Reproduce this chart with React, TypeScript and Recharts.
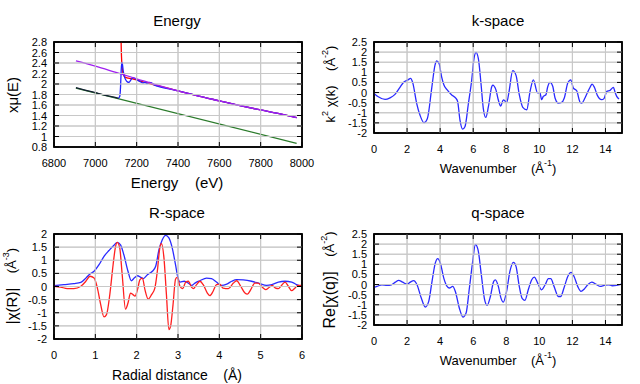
import type { ReactNode } from "react";
import { CartesianGrid, Line, LineChart, ReferenceArea, XAxis, YAxis } from "recharts";

const FONT = "'Liberation Sans', Arial, sans-serif";

// Energy panel: [eV, value]
const preEdgeMu: [number, number][] = [
  [6906, 1.93], [6950, 1.885], [7000, 1.835], [7050, 1.785], [7100, 1.74], [7113, 1.728],
];
const muE: [number, number][] = [
  [7112, 1.73], [7118, 1.76], [7122, 1.95], [7125, 2.25], [7128, 2.41], [7131, 2.38], [7135, 2.25],
  [7140, 2.15], [7147, 2.08], [7155, 2.04], [7163, 2.03], [7172, 2.08], [7182, 2.12], [7190, 2.11],
  [7200, 2.08], [7215, 2.05], [7230, 2.02], [7242, 2.03], [7250, 2.01], [7262, 2.03], [7272, 2.02],
  [7285, 1.98], [7300, 1.96], [7400, 1.87], [7500, 1.77], [7600, 1.68], [7700, 1.59], [7800, 1.505],
  [7900, 1.425], [7974, 1.36],
];
const bkgE: [number, number][] = [
  [7122, 3.6], [7125, 2.75], [7129, 2.35], [7134, 2.2], [7142, 2.14], [7160, 2.11], [7180, 2.1],
  [7200, 2.08], [7230, 2.04], [7260, 2.01], [7300, 1.97], [7400, 1.87], [7500, 1.77], [7600, 1.68],
  [7700, 1.59], [7800, 1.505], [7900, 1.425], [7974, 1.36],
];
const preLine: [number, number][] = [[6906, 1.92], [7974, 0.87]];
const postLine: [number, number][] = [
  [6906, 2.44], [7000, 2.34], [7100, 2.22], [7200, 2.1], [7300, 1.98], [7400, 1.87], [7500, 1.77],
  [7600, 1.68], [7700, 1.59], [7800, 1.505], [7900, 1.425], [7974, 1.36],
];

// k-space: [k, k^2 chi]
const kChi: [number, number][] = [
  [0, -0.04], [0.26, -0.21], [0.67, -0.34], [0.97, -0.26], [1.27, -0.09], [1.57, 0.26], [1.78, 0.5],
  [2.04, 0.62], [2.22, 0.7], [2.34, 0.49], [2.58, -0.53], [2.78, -1.11], [3.02, -1.49], [3.23, -1.28],
  [3.49, 0.21], [3.69, 1.36], [3.79, 1.56], [3.93, 1.45], [4.09, 0.78], [4.23, 0.37], [4.44, 0.12],
  [4.7, -0.12], [4.96, -0.29], [5.06, -0.45], [5.2, -1.36], [5.36, -1.81], [5.5, -1.69], [5.71, -0.54],
  [5.91, 0.62], [6.05, 1.69], [6.17, 1.99], [6.31, 1.69], [6.47, 0.46], [6.61, -0.78], [6.76, -1.23],
  [6.92, -0.7], [7.12, 0.29], [7.18, 0.37], [7.38, 0.12], [7.52, -0.37], [7.66, -0.67], [7.82, -0.36],
  [8.03, -0.48], [8.17, 0.06], [8.39, 1.08], [8.59, 0.85], [8.79, -0.11], [9.0, -0.73], [9.24, -0.85],
  [9.44, 0.06], [9.64, 0.63], [9.88, 0.0], [10.04, -0.02], [10.14, -0.35], [10.24, -0.19], [10.4, -0.11],
  [10.5, 0.26], [10.65, 0.5], [10.81, 0.31], [10.95, -0.27], [11.15, -0.52], [11.35, -0.49], [11.51, -0.27],
  [11.72, 0.47], [11.9, 0.63], [12.06, 0.22], [12.26, 0.09], [12.46, -0.47], [12.56, -0.52], [12.76, -0.27],
  [12.9, -0.02], [13.07, 0.26], [13.19, 0.42], [13.33, 0.26], [13.51, -0.14], [13.77, -0.35], [13.91, -0.3],
  [14.08, 0.06], [14.28, 0.11], [14.48, 0.26], [14.58, 0.02], [14.68, -0.19], [14.82, -0.32],
];

// R-space: [R, value]
const rMag: [number, number][] = [
  [0, 0.03], [0.24, 0.07], [0.48, 0.11], [0.65, 0.16], [0.77, 0.32], [0.85, 0.45], [0.97, 0.58],
  [1.09, 0.83], [1.21, 1.15], [1.33, 1.37], [1.45, 1.57], [1.53, 1.68], [1.61, 1.59], [1.69, 1.21],
  [1.79, 0.58], [1.87, 0.22], [1.94, 0.32], [2.02, 0.41], [2.1, 0.35], [2.16, 0.3], [2.26, 0.45],
  [2.38, 0.58], [2.46, 0.77], [2.54, 1.4], [2.62, 1.78], [2.7, 1.95], [2.78, 1.85], [2.86, 1.47],
  [2.94, 0.83], [2.99, 0.39], [3.05, 0.17], [3.15, 0.2], [3.25, 0.13], [3.33, 0.04], [3.41, 0.13],
  [3.53, 0.22], [3.69, 0.32], [3.81, 0.3], [3.93, 0.17], [4.05, 0.04], [4.18, 0.09], [4.3, 0.2],
  [4.42, 0.26], [4.58, 0.25], [4.78, 0.2], [4.98, 0.11], [5.14, 0.04], [5.27, 0.07], [5.43, 0.17],
  [5.59, 0.2], [5.75, 0.17], [5.87, 0.07], [5.98, 0.0],
];
const rRe: [number, number][] = [
  [0, 0.01], [0.16, -0.02], [0.32, -0.08], [0.48, -0.08], [0.65, 0.01], [0.77, 0.2], [0.87, 0.39],
  [0.97, 0.32], [1.05, -0.06], [1.13, -0.69], [1.21, -1.16], [1.27, -1.07], [1.35, -0.31], [1.43, 0.83],
  [1.49, 1.53], [1.53, 1.68], [1.59, 1.47], [1.65, 0.45], [1.73, -0.86], [1.79, -0.63], [1.85, -0.25],
  [1.91, -0.31], [1.96, -0.37], [2.02, -0.12], [2.08, 0.26], [2.14, 0.32], [2.2, -0.12], [2.28, -0.48],
  [2.36, -0.31], [2.44, -0.06], [2.5, 0.58], [2.56, 1.47], [2.6, 1.63], [2.66, 1.09], [2.72, -0.31],
  [2.78, -1.64], [2.82, -1.52], [2.88, -0.69], [2.94, 0.28], [2.98, 0.35], [3.05, 0.0], [3.11, -0.08],
  [3.19, 0.17], [3.25, 0.2], [3.33, -0.03], [3.37, -0.08], [3.45, 0.07], [3.53, 0.2], [3.61, 0.07],
  [3.71, -0.25], [3.77, -0.35], [3.85, -0.18], [3.93, 0.07], [4.01, 0.09], [4.09, -0.06], [4.22, -0.08],
  [4.34, 0.13], [4.42, 0.22], [4.52, 0.0], [4.62, -0.25], [4.68, -0.29], [4.76, -0.12], [4.86, 0.13],
  [4.94, 0.13], [5.04, -0.03], [5.12, -0.12], [5.21, -0.03], [5.28, 0.04], [5.36, -0.06], [5.43, -0.08],
  [5.49, 0.01], [5.59, 0.17], [5.67, 0.01], [5.75, -0.16], [5.82, -0.08], [5.9, 0.04], [5.98, 0.04],
];

// q-space: [q, Re chi(q)]
const qRe: [number, number][] = [
  [0, -0.14], [0.18, -0.09], [0.48, -0.01], [0.79, -0.04], [1.05, -0.01], [1.29, 0.12], [1.49, 0.21],
  [1.73, 0.12], [2.0, 0.02], [2.2, 0.12], [2.4, 0.19], [2.6, -0.01], [2.86, -0.67], [3.1, -1.11],
  [3.31, -0.83], [3.51, 0.16], [3.71, 1.07], [3.85, 1.28], [4.01, 1.07], [4.22, 0.32], [4.42, -0.09],
  [4.56, -0.17], [4.76, -0.09], [4.92, -0.34], [5.16, -1.16], [5.38, -1.61], [5.57, -1.41], [5.77, -0.17],
  [5.97, 1.15], [6.13, 1.97], [6.29, 1.73], [6.49, 0.49], [6.69, -0.75], [6.84, -1.03], [7.04, -0.59],
  [7.24, 0.16], [7.34, 0.23], [7.52, -0.09], [7.68, -0.67], [7.82, -0.87], [8.02, -0.34], [8.22, 0.65],
  [8.43, 1.1], [8.59, 0.9], [8.77, -0.01], [8.97, -0.7], [9.13, -0.78], [9.33, -0.26], [9.54, 0.24],
  [9.7, 0.37], [9.9, 0.07], [10.14, -0.26], [10.35, -0.01], [10.55, 0.29], [10.69, 0.29], [10.89, -0.09],
  [11.15, -0.59], [11.29, -0.59], [11.49, -0.17], [11.72, 0.4], [11.92, 0.6], [12.1, 0.4], [12.32, -0.09],
  [12.52, -0.34], [12.72, -0.22], [12.93, -0.01], [13.17, 0.12], [13.41, 0.02], [13.67, -0.09],
  [13.93, -0.04], [14.17, -0.01], [14.42, -0.06], [14.68, -0.04], [14.98, 0.02],
];

const energyTicksX = [6800, 7000, 7200, 7400, 7600, 7800, 8000];
const energyTicksY = [0.8, 1, 1.2, 1.4, 1.6, 1.8, 2, 2.2, 2.4, 2.6, 2.8];
const kTicksX = [0, 2, 4, 6, 8, 10, 12, 14];
const kTicksY = [-2, -1.5, -1, -0.5, 0, 0.5, 1, 1.5, 2, 2.5];
const rTicksX = [0, 1, 2, 3, 4, 5, 6];
const rTicksY = [-2, -1.5, -1, -0.5, 0, 0.5, 1, 1.5, 2];

const toPts = (arr: [number, number][]) => arr.map(([x, y]) => ({ x, y }));

const PLOT_W = 248;
const GRID = "#c8c8c8";

// gnuplot-like ticks: label outside, short inward tick on both opposite sides, plus the grid line.
// The first x tick also carries the frame and the panel's title and axis titles.
function XTick({ x, y, payload, h, index, extra, edge }: any) {
  const atEdge = payload.value === edge[0] || payload.value === edge[1];
  return (
    <g>
      {!atEdge && <line x1={x} x2={x} y1={y} y2={y - h} stroke={GRID} />}
      <line x1={x} x2={x} y1={y} y2={y - 5} stroke="#000" />
      <line x1={x} x2={x} y1={y - h} y2={y - h + 5} stroke="#000" />
      <text x={x} y={y + 20} textAnchor="middle" fontSize={11} fontFamily={FONT} fill="#000">
        {payload.value}
      </text>
      {index === 0 ? (
        <>
          <rect x={x} y={y - h} width={PLOT_W} height={h} fill="none" stroke="#000" strokeWidth={1.5} />
          {extra}
        </>
      ) : null}
    </g>
  );
}

function YTick({ x, y, payload, edge }: any) {
  const atEdge = payload.value === edge[0] || payload.value === edge[1];
  return (
    <g>
      {!atEdge && <line x1={x} x2={x + PLOT_W} y1={y} y2={y} stroke={GRID} />}
      <line x1={x} x2={x + 5} y1={y} y2={y} stroke="#000" />
      <line x1={x + PLOT_W} x2={x + PLOT_W - 5} y1={y} y2={y} stroke="#000" />
      <text x={x - 7} y={y + 4} textAnchor="end" fontSize={11} fontFamily={FONT} fill="#000">
        {payload.value}
      </text>
    </g>
  );
}

function T({ x, y, size, rotate, children }: { x: number; y: number; size: number; rotate?: boolean; children: ReactNode }) {
  return (
    <text
      x={x}
      y={y}
      fontSize={size}
      fontFamily={FONT}
      fill="#000"
      textAnchor="middle"
      dominantBaseline="central"
      transform={rotate ? `rotate(-90 ${x} ${y})` : undefined}
      style={{ whiteSpace: "pre" }}
    >
      {children}
    </text>
  );
}

function Plot({
  left,
  top,
  h,
  xDomain,
  xTicks,
  yDomain,
  yTicks,
  labels,
  children,
}: {
  left: number;
  top: number;
  h: number;
  xDomain: [number, number];
  xTicks: number[];
  yDomain: [number, number];
  yTicks: number[];
  labels: ReactNode;
  children: ReactNode;
}) {
  return (
    <div style={{ position: "absolute", left, top }}>
      <LineChart width={320} height={192} margin={{ top: 42, right: 18, left: 14, bottom: 192 - 42 - h - 30 }}>
        <CartesianGrid stroke={GRID} />
        <XAxis
          type="number"
          dataKey="x"
          domain={xDomain}
          ticks={xTicks}
          interval={0}
          allowDataOverflow
          height={30}
          tickSize={0}
          tickMargin={0}
          tickLine={false}
          axisLine={false}
          tick={(p: any) => <XTick {...p} h={h} extra={labels} edge={xDomain} />}
        />
        <YAxis
          type="number"
          domain={yDomain}
          ticks={yTicks}
          interval={0}
          allowDataOverflow
          width={40}
          tickSize={0}
          tickMargin={0}
          tickLine={false}
          axisLine={false}
          tick={(p: any) => <YTick {...p} edge={yDomain} />}
        />
        <ReferenceArea
          x1={xDomain[0]}
          x2={xDomain[1]}
          y1={yDomain[0]}
          y2={yDomain[1]}
          fill="none"
          stroke="#000"
          strokeWidth={1.5}
          fillOpacity={0}
          ifOverflow="visible"
        />
        {children}
      </LineChart>
    </div>
  );
}

export default function App() {
  return (
    <div style={{ position: "absolute", left: 0, top: 0, width: 640, height: 384, background: "#fff" }}>
      <Plot
        left={0}
        top={0}
        h={105}
        xDomain={[6800, 8000]}
        xTicks={energyTicksX}
        yDomain={[0.8, 2.8]}
        yTicks={energyTicksY}
        labels={
          <>
            <T x={177} y={20} size={15}>Energy</T>
            <T x={177} y={182} size={15}>{"Energy    (eV)"}</T>
            <T x={12} y={95} size={15} rotate>xμ(E)</T>
          </>
        }
      >
        <Line data={toPts(preLine)} dataKey="y" type="linear" stroke="#2a7a2a" strokeWidth={1.2} dot={false} isAnimationActive={false} />
        <Line data={toPts(preEdgeMu)} dataKey="y" type="monotone" stroke="#152035" strokeWidth={1.3} dot={false} isAnimationActive={false} />
        <Line data={toPts(bkgE)} dataKey="y" type="monotone" stroke="#ff0000" strokeWidth={1.3} dot={false} isAnimationActive={false} />
        <Line data={toPts(muE)} dataKey="y" type="monotone" stroke="#2222ff" strokeWidth={1.3} dot={false} isAnimationActive={false} />
        <Line data={toPts(postLine)} dataKey="y" type="monotone" stroke="#a020f0" strokeWidth={1.3} dot={false} isAnimationActive={false} />
      </Plot>
      <Plot
        left={320}
        top={0}
        h={91}
        xDomain={[0, 15]}
        xTicks={kTicksX}
        yDomain={[-2, 2.5]}
        yTicks={kTicksY}
        labels={
          <>
            <T x={178} y={20} size={15}>k-space</T>
            <T x={178} y={168} size={13}>
              {"Wavenumber    (Å"}
              <tspan dy={-5} fontSize={9}>-1</tspan>
              <tspan dy={5}>)</tspan>
            </T>
            <T x={10} y={84} size={13} rotate>
              {"k"}
              <tspan dy={-5} fontSize={9}>2</tspan>
              <tspan dy={5}>{" χ(k)    (Å"}</tspan>
              <tspan dy={-5} fontSize={9}>-2</tspan>
              <tspan dy={5}>)</tspan>
            </T>
          </>
        }
      >
        <Line data={toPts(kChi)} dataKey="y" type="monotone" stroke="#2a2aff" strokeWidth={1.3} dot={false} isAnimationActive={false} />
      </Plot>
      <Plot
        left={0}
        top={192}
        h={105}
        xDomain={[0, 6]}
        xTicks={rTicksX}
        yDomain={[-2, 2]}
        yTicks={rTicksY}
        labels={
          <>
            <T x={177} y={20} size={15}>R-space</T>
            <T x={177} y={183} size={14}>{"Radial distance    (Å)"}</T>
            <T x={11} y={94} size={13} rotate>
              <tspan fontSize={15}>|χ(R)|</tspan>
              {"    (Å"}
              <tspan dy={-5} fontSize={9}>-3</tspan>
              <tspan dy={5}>)</tspan>
            </T>
          </>
        }
      >
        <Line data={toPts(rMag)} dataKey="y" type="monotone" stroke="#2a2aff" strokeWidth={1.3} dot={false} isAnimationActive={false} />
        <Line data={toPts(rRe)} dataKey="y" type="monotone" stroke="#ff2020" strokeWidth={1.3} dot={false} isAnimationActive={false} />
      </Plot>
      <Plot
        left={320}
        top={192}
        h={91}
        xDomain={[0, 15]}
        xTicks={kTicksX}
        yDomain={[-2, 2.5]}
        yTicks={kTicksY}
        labels={
          <>
            <T x={178} y={20} size={15}>q-space</T>
            <T x={178} y={168} size={13}>
              {"Wavenumber    (Å"}
              <tspan dy={-5} fontSize={9}>-1</tspan>
              <tspan dy={5}>)</tspan>
            </T>
            <T x={9} y={88} size={13} rotate>
              <tspan fontSize={16}>Re[χ(q)]</tspan>
              {"    (Å"}
              <tspan dy={-5} fontSize={9}>-2</tspan>
              <tspan dy={5}>)</tspan>
            </T>
          </>
        }
      >
        <Line data={toPts(qRe)} dataKey="y" type="monotone" stroke="#2a2aff" strokeWidth={1.3} dot={false} isAnimationActive={false} />
      </Plot>
    </div>
  );
}
